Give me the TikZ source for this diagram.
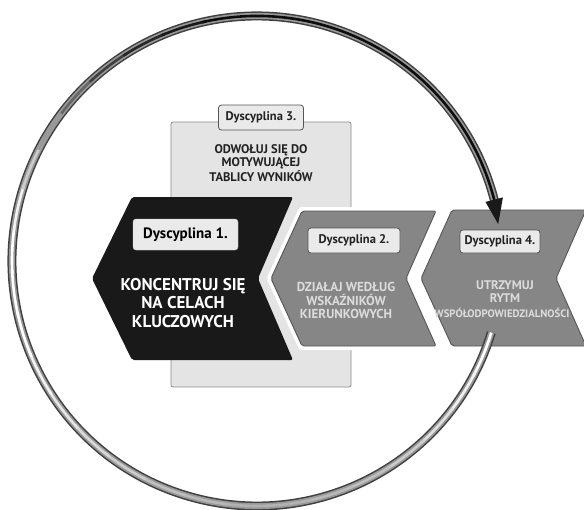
\documentclass[tikz,border=0pt]{standalone}
\usepackage{fontspec}
\setmainfont{PT Sans}
\definecolor{chgray}{HTML}{868686}
\definecolor{chedge}{HTML}{555555}
\definecolor{boxfill}{HTML}{E4E4E4}
\definecolor{boxedge}{HTML}{8A8A8A}
\definecolor{labfill}{HTML}{EAEAEA}
\definecolor{labedge}{HTML}{555555}
\definecolor{chtext}{HTML}{DCDCDC}
\definecolor{darktext}{HTML}{222222}
\tikzset{
  chevshape/.style={rounded corners=2pt},
  lab/.style={draw=labedge, line width=0.8pt, fill=labfill, rounded corners=3pt,
    inner sep=0pt, font=\bfseries\fontsize{12.5}{14}\selectfont, text=darktext},
  halo/.style={draw=white, line width=8pt, line join=round},
  ringout/.style={line width=9pt, draw=black!75},
  ringmid/.style={line width=6pt, draw=black!40},
}
\begin{document}
\begin{tikzpicture}[x=1pt,y=-1pt]
\useasboundingbox (0,0) rectangle (584,509);
\fill[white] (0,0) rectangle (584,509);

% Discipline 3 background panel
\draw[draw=boxedge, fill=boxfill, line width=0.8pt, rounded corners=2pt]
  (171,122) rectangle (351,387);
\node[lab, minimum width=85pt, minimum height=25pt] (l3) at (261,117.5) {Dyscyplina 3.};
\node[align=center, font=\bfseries\fontsize{12.5}{13}\selectfont, text=darktext] (t3) at (261,163)
  {ODWOŁUJ SIĘ DO\\MOTYWUJĄCEJ\\TABLICY WYNIKÓW};

% Discipline 1 chevron
\fill[black!90, chevshape] (132,197) -- (293,197) -- (258,278.5) -- (293,360)
  -- (132,360) -- (92,278.5) -- cycle;
\node[fill=labfill, draw=black!20, rounded corners=3pt, minimum width=105pt, minimum height=31pt,
  inner sep=0pt, font=\bfseries\fontsize{15}{16}\selectfont] (l1) at (185.5,234.5) {Dyscyplina 1.};
\node[align=center, text=white, font=\bfseries\fontsize{17}{18.5}\selectfont] (t1) at (183,303)
  {KONCENTRUJ SIĘ\\NA CELACH\\KLUCZOWYCH};

% Discipline 2 chevron
\path[halo] (302,211) -- (436,211) -- (406,278.5) -- (436,346) -- (302,346) -- (271,278.5) -- cycle;
\draw[fill=chgray, draw=chedge, line width=0.9pt, chevshape] (302,211) -- (436,211) -- (406,278.5)
  -- (436,346) -- (302,346) -- (271,278.5) -- cycle;
\node[lab, minimum width=92pt, minimum height=25pt] (l2) at (354,240.5) {Dyscyplina 2.};
\node[align=center, text=chtext, font=\bfseries\fontsize{13}{13.5}\selectfont] (t2) at (346,300.5)
  {DZIAŁAJ WEDŁUG\\WSKAŹNIKÓW\\KIERUNKOWYCH};

% Discipline 4 chevron
\path[halo] (452,210) -- (586,210) -- (556,278.5) -- (586,346) -- (452,346) -- (421,278.5) -- cycle;
\draw[fill=chgray, draw=chedge, line width=0.9pt, chevshape] (452,210) -- (586,210) -- (556,278.5)
  -- (586,346) -- (452,346) -- (421,278.5) -- cycle;
\node[lab, minimum width=80pt, minimum height=23pt] (l4) at (500,241.5) {Dyscyplina 4.};
\node[align=center, text=chtext, font=\bfseries\fontsize{12.5}{13.5}\selectfont] (t4) at (505,291.5)
  {UTRZYMUJ\\RYTM};
\node[text=chtext, font=\bfseries\fontsize{10.8}{12}\selectfont, inner sep=0pt] (t4b) at (502,313)
  {WSPÓŁODPOWIEDZIALNOŚCI};

% Ring (cycle of accountability)
\coordinate (C) at (257,261);
\draw[ringout] ([shift={(17:245)}]C) arc[start angle=17, end angle=346, radius=245];
\draw[ringmid] ([shift={(17:245)}]C) arc[start angle=17, end angle=346, radius=245];
\foreach \a/\b/\d in {17/28/0, 27/38/5, 37/48/12, 47/58/20, 57/68/25, 67/78/28, 77/88/30,
  87/98/30, 97/108/28, 107/118/25, 117/128/20, 127/138/15, 137/148/10, 147/158/5,
  157/168/0, 167/178/0, 177/188/0, 187/198/5, 197/208/20, 207/218/40, 217/228/60,
  227/238/75, 237/248/85, 247/258/90, 257/346/95} {
  \draw[line width=2.6pt, draw=black!\d] ([shift={(\a:245)}]C) arc[start angle=\a, end angle=\b, radius=245];
}
\coordinate (hb1) at ([shift={(345.5:236)}]C);
\coordinate (hb2) at ([shift={(345.5:254)}]C);
\coordinate (ht) at ([shift={(351.3:244)}]C);
\fill[black!90] (hb1) -- (hb2) -- (ht) -- cycle;
\end{tikzpicture}
\end{document}
